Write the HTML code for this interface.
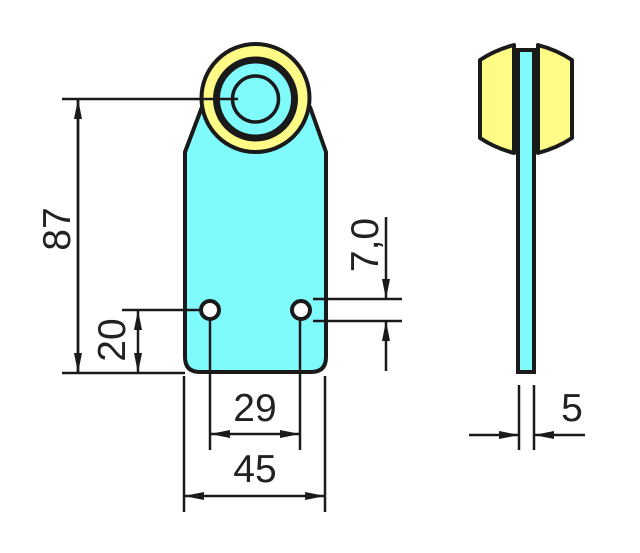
<!DOCTYPE html>
<html><head><meta charset="utf-8"><style>html,body{margin:0;padding:0;background:#fff}svg{display:block}text{font-family:"Liberation Sans",sans-serif;font-size:39px;fill:#222}</style></head><body>
<svg width="640" height="553" viewBox="0 0 640 553" xmlns="http://www.w3.org/2000/svg">
<defs><marker id="a" viewBox="0 0 20 8" refX="20" refY="4" markerWidth="20" markerHeight="8" markerUnits="userSpaceOnUse" orient="auto"><path d="M0,0 L20,4 L0,8 Z" fill="#1a1a1a"/></marker></defs>
<path d="M185,152 L202,107 L310,107 L326,152 L326,357 Q326,372 311,372 L200,372 Q185,372 185,357 Z" fill="#80fbfc" stroke="#1a1a1a" stroke-width="4" stroke-linejoin="round"/>
<circle cx="255.5" cy="98" r="54" fill="#fefb86" stroke="#1a1a1a" stroke-width="4"/>
<circle cx="255.5" cy="99" r="39" fill="#80fbfc" stroke="#1a1a1a" stroke-width="7"/>
<circle cx="255.5" cy="99" r="23" fill="#80fbfc" stroke="#1a1a1a" stroke-width="3.5"/>
<circle cx="210" cy="310" r="9" fill="#fff" stroke="#1a1a1a" stroke-width="4"/>
<circle cx="301" cy="310" r="9" fill="#fff" stroke="#1a1a1a" stroke-width="4"/>
<rect x="518" y="50" width="16" height="322" fill="#80fbfc" stroke="#1a1a1a" stroke-width="4"/>
<path d="M514,45 L514,153 Q495,148 480,138 L480,60 Q495,50 514,45 Z" fill="#fefb86" stroke="#1a1a1a" stroke-width="4" stroke-linejoin="round"/>
<path d="M538,45 L538,153 Q557,148 572,138 L572,60 Q557,50 538,45 Z" fill="#fefb86" stroke="#1a1a1a" stroke-width="4" stroke-linejoin="round"/>
<g stroke="#1a1a1a" stroke-width="2.5" fill="none">
<line x1="62" y1="99" x2="238" y2="99"/>
<line x1="62" y1="373" x2="185" y2="373"/>
<line x1="78" y1="373" x2="78" y2="99" marker-end="url(#a)"/>
<line x1="78" y1="99" x2="78" y2="373" marker-end="url(#a)"/>
<line x1="122" y1="310" x2="201" y2="310"/>
<line x1="138" y1="340" x2="138" y2="310" marker-end="url(#a)"/>
<line x1="138" y1="340" x2="138" y2="373" marker-end="url(#a)"/>
<line x1="210" y1="319" x2="210" y2="450"/>
<line x1="300" y1="319" x2="300" y2="450"/>
<line x1="255" y1="434" x2="210" y2="434" marker-end="url(#a)"/>
<line x1="255" y1="434" x2="300" y2="434" marker-end="url(#a)"/>
<line x1="184" y1="376" x2="184" y2="512"/>
<line x1="325" y1="376" x2="325" y2="512"/>
<line x1="255" y1="496" x2="184" y2="496" marker-end="url(#a)"/>
<line x1="255" y1="496" x2="325" y2="496" marker-end="url(#a)"/>
<line x1="313" y1="299" x2="402" y2="299"/>
<line x1="313" y1="321" x2="402" y2="321"/>
<line x1="386" y1="217" x2="386" y2="299" marker-end="url(#a)"/>
<line x1="386" y1="371" x2="386" y2="321" marker-end="url(#a)"/>
<line x1="519" y1="385" x2="519" y2="450"/>
<line x1="534" y1="385" x2="534" y2="450"/>
<line x1="469" y1="435" x2="519" y2="435" marker-end="url(#a)"/>
<line x1="585" y1="435" x2="534" y2="435" marker-end="url(#a)"/>
</g>
<text x="255" y="421" text-anchor="middle">29</text>
<text x="255" y="482" text-anchor="middle">45</text>
<text x="572" y="421" text-anchor="middle">5</text>
<text transform="translate(70,229) rotate(-90)" text-anchor="middle">87</text>
<text transform="translate(125,340) rotate(-90)" text-anchor="middle">20</text>
<text transform="translate(378,245) rotate(-90)" text-anchor="middle">7,0</text>
</svg>
</body></html>
